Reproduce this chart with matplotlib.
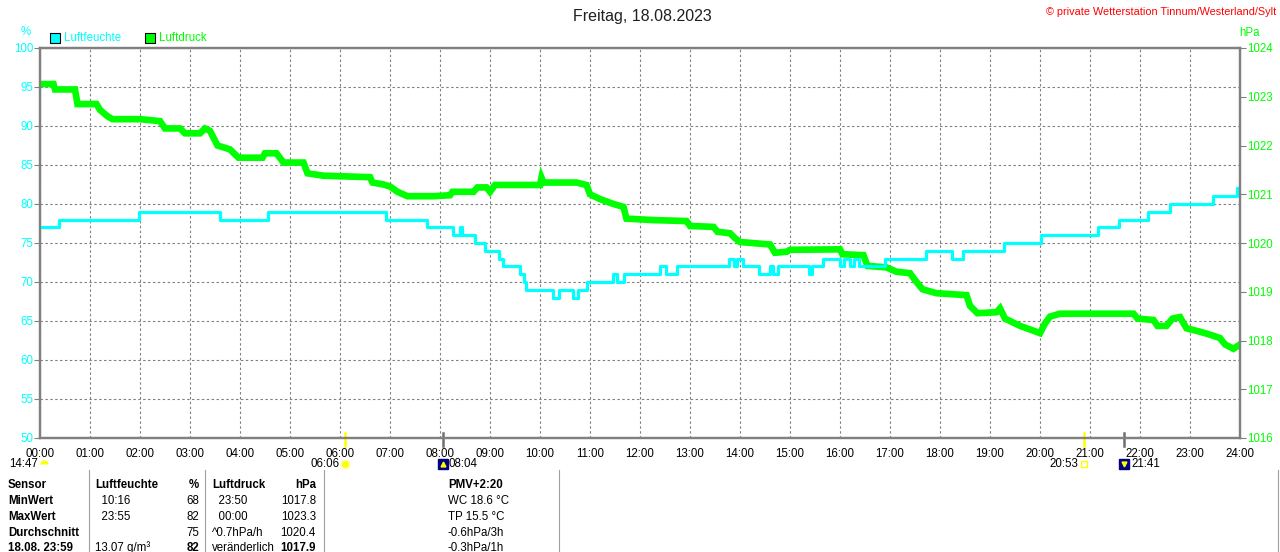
import matplotlib
matplotlib.use('Agg')
import matplotlib.pyplot as plt
from matplotlib.transforms import blended_transform_factory

plt.rcParams['font.family'] = ['Liberation Sans', 'DejaVu Sans']

# Stunden der x-Achse
stunden = list(range(25))
stunden_labels = ["%02d:00" % h for h in stunden]

# Luftfeuchte (%) - Stufen: Zeitpunkt (h) ab dem der Wert gilt
feuchte_zeit = [0, 0.37, 1.97, 3.6, 4.55, 6.92, 7.73, 8.25, 8.4, 8.45, 8.7, 8.9, 9.17, 9.25,
                9.6, 9.67, 9.72, 10.25, 10.37, 10.65, 10.75, 10.93, 11.45, 11.53, 11.68,
                12.39, 12.52, 12.73, 13.77, 13.87, 13.93, 14.05, 14.37, 14.6, 14.65, 14.75,
                15.37, 15.43, 15.65, 16.0, 16.08, 16.19, 16.27, 16.37, 16.9, 17.72, 18.23,
                18.45, 19.27, 20.01, 21.15, 21.57, 22.15, 22.59, 23.45, 23.93, 24.0]
feuchte_wert = [77, 78, 79, 78, 79, 78, 77, 76, 77, 76, 75, 74, 73, 72,
                71, 70, 69, 68, 69, 68, 69, 70, 71, 70, 71,
                72, 71, 72, 73, 72, 73, 72, 71, 72, 71, 72,
                71, 72, 73, 72, 73, 72, 73, 72, 73, 74, 73,
                74, 75, 76, 77, 78, 79, 80, 81, 82, 82]

# Luftdruck (hPa)
druck_zeit = [0.0, 0.27, 0.3, 0.7, 0.75, 1.13, 1.2, 1.35, 1.45, 2.0, 2.4, 2.5, 2.8, 2.9, 3.2,
              3.3, 3.4, 3.55, 3.8, 3.97, 4.45, 4.5, 4.73, 4.87, 5.27, 5.35, 5.67, 6.6, 6.65,
              6.87, 7.0, 7.15, 7.35, 7.87, 8.2, 8.25, 8.67, 8.75, 8.93, 9.0, 9.1, 10.0, 10.03,
              10.07, 10.73, 10.93, 11.0, 11.2, 11.47, 11.67, 11.73, 12.27, 12.93, 13.0, 13.47,
              13.55, 13.8, 13.9, 14.0, 14.6, 14.7, 14.93, 15.0, 16.0, 16.05, 16.47, 16.55,
              16.93, 17.13, 17.4, 17.5, 17.65, 17.93, 18.53, 18.6, 18.75, 19.13, 19.2, 19.3,
              19.6, 19.87, 20.0, 20.1, 20.2, 20.4, 21.87, 21.95, 22.27, 22.35, 22.53, 22.65,
              22.8, 22.93, 23.2, 23.4, 23.6, 23.7, 23.87, 24.0]
druck_wert = [1023.26, 1023.26, 1023.15, 1023.15, 1022.85, 1022.85, 1022.73, 1022.6, 1022.54,
              1022.54, 1022.5, 1022.35, 1022.35, 1022.25, 1022.25, 1022.35, 1022.3, 1022.0,
              1021.92, 1021.75, 1021.75, 1021.84, 1021.84, 1021.65, 1021.65, 1021.43, 1021.38,
              1021.35, 1021.24, 1021.2, 1021.16, 1021.05, 1020.96, 1020.96, 1020.98, 1021.05,
              1021.05, 1021.14, 1021.14, 1021.05, 1021.19, 1021.19, 1021.34, 1021.24, 1021.24,
              1021.19, 1021.0, 1020.9, 1020.8, 1020.74, 1020.5, 1020.47, 1020.45, 1020.35,
              1020.33, 1020.23, 1020.2, 1020.1, 1020.02, 1019.97, 1019.8, 1019.82, 1019.86,
              1019.87, 1019.77, 1019.75, 1019.53, 1019.5, 1019.41, 1019.38, 1019.24, 1019.05,
              1018.97, 1018.93, 1018.71, 1018.56, 1018.58, 1018.66, 1018.45, 1018.3, 1018.2,
              1018.15, 1018.35, 1018.49, 1018.55, 1018.55, 1018.45, 1018.42, 1018.3, 1018.3,
              1018.45, 1018.48, 1018.25, 1018.18, 1018.12, 1018.05, 1017.92, 1017.83, 1017.92]

feuchte_ticks = list(range(50, 101, 5))
druck_ticks = list(range(1016, 1025))

# Sonne / Mond (Stunden)
sonne_auf, sonne_unter = 6.1, 20.883
mond_auf, mond_unter = 8.067, 21.683

# Tabelle unten
tab_sensor = ["Sensor", "MinWert", "MaxWert", "Durchschnitt", "18.08. 23:59"]
tab_feuchte = ["Luftfeuchte", "  10:16", "  23:55", "", "13.07 g/m\u00b3"]
tab_prozent = ["%", "68", "82", "75", "82"]
tab_druck = ["Luftdruck", "  23:50", "  00:00", "^0.7hPa/h", "ver\u00e4nderlich"]
tab_hpa = ["hPa", "1017.8", "1023.3", "1020.4", "1017.9"]
tab_pmv = ["PMV+2:20", "WC 18.6 \u00b0C", "TP 15.5 \u00b0C", "-0.6hPa/3h", "-0.3hPa/1h"]

W, H = 1280, 552
grau = '#808080'
cyan = '#00ffff'
gruen = '#00ff00'
fs = 8.3


def px(x, y):
    return x / W, 1 - y / H


fig = plt.figure(figsize=(W / 100, H / 100), dpi=100)
ax = fig.add_axes([40 / W, 1 - 438 / H, 1200 / W, 390 / H])
ax2 = ax.twinx()

ax.set_xlim(0, 24)
ax.set_ylim(50, 100)
ax2.set_ylim(1016, 1024)

ax.grid(True, color=grau, linestyle=(0, (2.2, 2.2)), linewidth=0.8)
ax.set_xticks(stunden)
ax.set_xticklabels(stunden_labels, fontsize=fs, color='black')
ax.set_yticks(feuchte_ticks)
ax.set_yticklabels([str(v) for v in feuchte_ticks], fontsize=fs, color=cyan)
ax2.set_yticks(druck_ticks)
ax2.set_yticklabels([str(v) for v in druck_ticks], fontsize=fs, color=gruen)
ax.tick_params(axis='x', length=0, pad=7)
ax.tick_params(axis='y', length=4, color=grau, width=0.8, pad=1)
ax2.tick_params(axis='y', length=4, color=grau, width=0.8, pad=1)

for a in (ax, ax2):
    for s in a.spines.values():
        s.set_color(grau)
        s.set_linewidth(1.6)

# Luftdruck (gruen), darueber Luftfeuchte (cyan)
ax2.plot(druck_zeit, druck_wert, color=gruen, linewidth=4.8, solid_joinstyle='miter')
ax2.plot(feuchte_zeit, feuchte_wert, color=cyan, linewidth=2.3, drawstyle='steps-post',
         transform=ax.transData)
ax2.set_xlim(0, 24)
ax2.set_ylim(1016, 1024)

# Sonnen- und Mondzeiten unter der Achse
trans = blended_transform_factory(ax.transData, ax.transAxes)
for t, farbe in [(sonne_auf, '#ffff00'), (sonne_unter, '#ffff00'), (mond_auf, '#707070'), (mond_unter, '#707070')]:
    ax.plot([t, t], [0.012, -0.02], color=farbe, linewidth=1.8, transform=trans, clip_on=False)

yi = -0.067
ax.plot([sonne_auf], [yi], marker='o', markersize=6, color='#ffff00', markeredgecolor='#ffffa0',
        transform=trans, clip_on=False)
ax.plot([sonne_unter], [yi], marker='s', markersize=5, markerfacecolor='none', markeredgecolor='#ffff00',
        markeredgewidth=1, transform=trans, clip_on=False)
for t in (mond_auf, mond_unter):
    ax.plot([t], [yi], marker='s', markersize=7, color='#000080', transform=trans, clip_on=False)
    ax.plot([t], [yi], marker='v' if t > 12 else '^', markersize=3.5, color='#ffff00',
            transform=trans, clip_on=False)
ax.plot([0.08], [yi], marker='o', markersize=6, fillstyle='top', color='#ffff00',
        markeredgewidth=0, transform=trans, clip_on=False)

ax.annotate("06:06", (sonne_auf, yi), xycoords=trans, xytext=(-4, 0), textcoords='offset points',
            ha='right', va='center', fontsize=fs, annotation_clip=False)
ax.annotate("08:04", (mond_auf, yi), xycoords=trans, xytext=(4, 0), textcoords='offset points',
            ha='left', va='center', fontsize=fs, annotation_clip=False)
ax.annotate("20:53", (sonne_unter, yi), xycoords=trans, xytext=(-4, 0), textcoords='offset points',
            ha='right', va='center', fontsize=fs, annotation_clip=False)
ax.annotate("21:41", (mond_unter, yi), xycoords=trans, xytext=(5, 0), textcoords='offset points',
            ha='left', va='center', fontsize=fs, annotation_clip=False)
fig.text(*px(9, 464), "14:47", ha='left', va='center', fontsize=fs)

# Titel und Beschriftungen oben
fig.text(*px(642, 16), "Freitag, 18.08.2023", ha='center', va='center', fontsize=11.5, color='#202020')
fig.text(*px(1276, 12), "\u00a9 private Wetterstation Tinnum/Westerland/Sylt", ha='right', va='center',
         fontsize=7.8, color='#ff0000')
fig.text(*px(26, 32), "%", ha='center', va='center', fontsize=fs, color=cyan)
fig.text(*px(1250, 33), "hPa", ha='center', va='center', fontsize=fs, color=gruen)

# Legende
for x0, farbe, name in [(50, cyan, "Luftfeuchte"), (145, gruen, "Luftdruck")]:
    fig.patches.append(plt.Rectangle(px(x0, 43), 10 / W, 10 / H, transform=fig.transFigure,
                                     facecolor=farbe, edgecolor='black', linewidth=0.8))
    fig.text(*px(x0 + 14, 38), name, ha='left', va='center', fontsize=fs, color=farbe)

# Tabelle
zeilen_y = [485, 501, 517, 533, 548]
for i, y in enumerate(zeilen_y):
    fett = 'bold' if i == 0 else 'normal'
    fig.text(*px(8, y), tab_sensor[i], ha='left', va='center', fontsize=fs, fontweight='bold')
    fig.text(*px(95, y), tab_feuchte[i], ha='left', va='center', fontsize=fs, fontweight=fett)
    fig.text(*px(199, y), tab_prozent[i], ha='right', va='center', fontsize=fs,
             fontweight='bold' if i in (0, 4) else 'normal')
    fig.text(*px(212, y), tab_druck[i], ha='left', va='center', fontsize=fs, fontweight=fett)
    fig.text(*px(316, y), tab_hpa[i], ha='right', va='center', fontsize=fs,
             fontweight='bold' if i in (0, 4) else 'normal')
    fig.text(*px(448, y), tab_pmv[i], ha='left', va='center', fontsize=fs, fontweight=fett)

for xs in (89, 205, 324, 559, 1278):
    fig.add_artist(plt.Line2D([xs / W, xs / W], [1 - 470 / H, 0], transform=fig.transFigure,
                              color='#a0a0a0', linewidth=0.8))

fig.savefig('out.png', dpi=100)
